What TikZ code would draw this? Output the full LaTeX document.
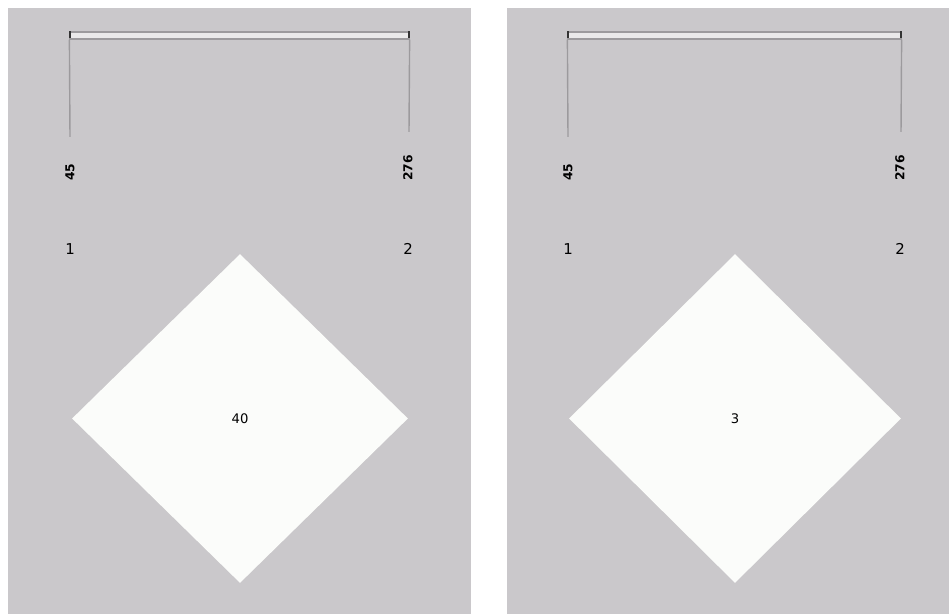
\documentclass[tikz,border=0pt]{standalone}
\usepackage{fontspec}
\setsansfont{DejaVu Sans}
\usetikzlibrary{shapes.geometric}

\definecolor{panelgray}{HTML}{CAC8CB}
\definecolor{bargray}{HTML}{9C9A9D}
\definecolor{leafwhite}{HTML}{FBFCFA}

\tikzset{
  panel/.style={fill=panelgray,draw=none},
  barbox/.style={draw=bargray,fill=panelgray!40,line width=0.7pt,inner sep=0pt,minimum height=7*0.02cm},
  stem/.style={draw=bargray,line width=0.8pt},
  cutlabel/.style={font=\sffamily\bfseries\fontsize{7}{8}\selectfont,rotate=90,anchor=west,inner sep=0pt},
  leaflabel/.style={font=\sffamily\fontsize{8.5}{9}\selectfont,inner sep=0pt},
  leaf/.style={diamond,fill=leafwhite,draw=none,inner sep=0pt,font=\sffamily\fontsize{7.5}{9}\selectfont}
}

\begin{document}
\begin{tikzpicture}[x=0.02cm,y=-0.02cm]
\useasboundingbox (0,0) rectangle (949,614);
\fill[white] (0,0) rectangle (949,614);
% two panels, one per tree
\foreach \p/\xa/\xb/\l/\r/\c/\hw/\v in {a/8/471/70/409/240/336/40, b/507/949/568/901/735/332/3} {
  \fill[panel] (\xa,8) rectangle (\xb,614);
  \node[barbox,minimum width={(\r-\l)*0.02cm}] (bar\p) at ({(\l+\r)/2},35.5) {};
  \coordinate (foot\p l) at (\l,137);
  \coordinate (foot\p r) at (\r,132);
  \draw[stem] (bar\p.south west) -- (foot\p l);
  \draw[stem] (bar\p.south east) -- (foot\p r);
  \fill[black!80] (bar\p.north west) rectangle ++(1.5,7);
  \fill[black!80] (bar\p.north east) rectangle ++(-1.5,7);
  \node[cutlabel] (cut\p l) at (\l,181) {45};
  \node[cutlabel] (cut\p r) at (\r-1,181) {276};
  \node[leaflabel] (num\p l) at (\l,249) {1};
  \node[leaflabel] (num\p r) at (\r-1,249) {2};
  \node[leaf,minimum width={\hw*0.02cm},minimum height={329*0.02cm}] (leaf\p) at (\c,418.5) {\v};
}
\end{tikzpicture}
\end{document}
